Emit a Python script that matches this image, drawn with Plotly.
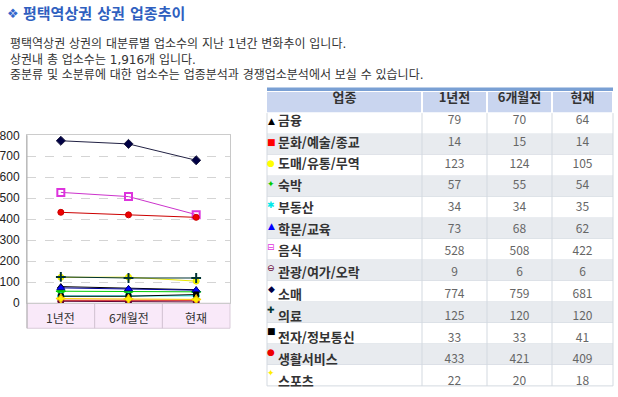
import plotly.graph_objects as go

W, H = 618, 397

periods = ["1년전", "6개월전", "현재"]
industries = ["금융", "문화/예술/종교", "도매/유통/무역", "숙박", "부동산", "학문/교육", "음식",
              "관광/여가/오락", "소매", "의료", "전자/정보통신", "생활서비스", "스포츠"]
v_1y = [79, 14, 123, 57, 34, 73, 528, 9, 774, 125, 33, 433, 22]
v_6m = [70, 15, 124, 55, 34, 68, 508, 6, 759, 120, 33, 421, 20]
v_now = [64, 14, 105, 54, 35, 62, 422, 6, 681, 120, 41, 409, 18]
y_ticks = [0, 100, 200, 300, 400, 500, 600, 700, 800]

title_text = "평택역상권 상권 업종추이"
desc_lines = ["평택역상권 상권의 대분류별 업소수의 지난 1년간 변화추이 입니다.",
              "상권내 총 업소수는 1,916개 입니다.",
              "중분류 및 소분류에 대한 업소수는 업종분석과 경쟁업소분석에서 보실 수 있습니다."]
headers = ["업종", "1년전", "6개월전", "현재"]

styles = [
    dict(color="#000000", line="#000000", symbol="triangle-up", size=6, glyph="▲"),
    dict(color="#ff0000", line="#cc0000", symbol="square", size=5, glyph="■"),
    dict(color="#ffff00", line="#e8e800", symbol="circle", size=6, glyph="●"),
    dict(color="#00cc00", line="#00cc00", symbol="star-diamond", size=7, glyph="✦"),
    dict(color="#00e8e8", line="#00e8e8", symbol="asterisk-open", size=6, glyph="✱"),
    dict(color="#0000ff", line="#000099", symbol="triangle-up", size=7, glyph="▲"),
    dict(color="#dd33dd", line="#cc33cc", symbol="square-open", size=7, glyph="⊟"),
    dict(color="#660033", line="#660033", symbol="circle", size=6, glyph="⊖"),
    dict(color="#000044", line="#222244", symbol="diamond", size=7, glyph="◆"),
    dict(color="#003333", line="#003333", symbol="cross-thin-open", size=7, glyph="✚"),
    dict(color="#000000", line="#000000", symbol="square", size=5, glyph="■"),
    dict(color="#ee0000", line="#cc0000", symbol="circle", size=6, glyph="●"),
    dict(color="#ffee00", line="#ffcc00", symbol="star-diamond", size=7, glyph="✦"),
]

def px(x):
    return x / W

def py(y):
    return 1 - y / H

KFONT = "Noto Sans CJK KR"
MIXFONT = "DejaVu Sans, Noto Sans CJK KR"

fig = go.Figure()

for i, name in enumerate(industries):
    s = styles[i]
    vals = [v_1y[i], v_6m[i], v_now[i]]
    mk = dict(symbol=s["symbol"], size=s["size"], color=s["color"])
    if "open" in s["symbol"]:
        mk["line"] = dict(width=2, color=s["color"])
    else:
        mk["line"] = dict(width=1, color=s["line"])
    fig.add_trace(go.Scatter(x=periods, y=vals, mode="lines+markers", name=name,
                             line=dict(color=s["line"], width=1), marker=mk,
                             showlegend=False, hoverinfo="x+y+name"))

# ---- table geometry (pixels) ----
ROW_H = 21.75
HEAD_TOP = 87
HEAD_H = 23
TEXT_SHIFT = 7          # plotly puts cell text near the cell top; lift the text layer
T_X0, T_X1 = 267, 613
COL_EDGES = [267, 422, 487, 552, 613]

label_col = ["\u00a0" + n for n in industries]
clear = "rgba(0,0,0,0)"

fig.add_trace(go.Table(
    domain=dict(x=[px(T_X0), px(T_X1)], y=[0, py(HEAD_TOP - TEXT_SHIFT)]),
    columnwidth=[COL_EDGES[k + 1] - COL_EDGES[k] for k in range(4)],
    header=dict(values=headers, fill_color=clear, line=dict(color=clear, width=0),
                font=dict(family=KFONT, size=13, color="#333333", weight="bold"),
                align="center", height=HEAD_H),
    cells=dict(values=[label_col, v_1y, v_6m, v_now],
               fill_color=clear, line=dict(color=clear, width=0),
               font=dict(family=KFONT, size=[13, 12, 12, 12],
                         weight=["bold", "normal", "normal", "normal"],
                         color=["#333333", "#666666", "#666666", "#666666"]),
               align=["left", "center", "center", "center"], height=ROW_H),
))

shapes = []
shapes.append(dict(type="rect", xref="paper", yref="paper", x0=px(T_X0), x1=px(T_X1),
                   y0=py(HEAD_TOP), y1=py(HEAD_TOP - 3.5), fillcolor="#7aa0d4", line=dict(width=0),
                   layer="below"))
for k in range(4):
    shapes.append(dict(type="rect", xref="paper", yref="paper",
                       x0=px(COL_EDGES[k] + (0 if k == 0 else 1)), x1=px(COL_EDGES[k + 1] - 1),
                       y0=py(HEAD_TOP + HEAD_H - 1), y1=py(HEAD_TOP + 1),
                       fillcolor="#c9d5ef", line=dict(width=0), layer="below"))
for i in range(len(industries)):
    top = HEAD_TOP + HEAD_H + ROW_H * i
    shapes.append(dict(type="rect", xref="paper", yref="paper", x0=px(T_X0), x1=px(T_X1),
                       y0=py(top + ROW_H), y1=py(top),
                       fillcolor="#ffffff" if i % 2 == 0 else "#e8ebef",
                       line=dict(width=0), layer="below"))
    shapes.append(dict(type="line", xref="paper", yref="paper", x0=px(T_X0), x1=px(T_X1),
                       y0=py(top + ROW_H), y1=py(top + ROW_H),
                       line=dict(color="#d3d9e0", width=1), layer="below"))
body_bottom = HEAD_TOP + HEAD_H + ROW_H * len(industries)
for xe in COL_EDGES:
    shapes.append(dict(type="line", xref="paper", yref="paper", x0=px(xe), x1=px(xe),
                       y0=py(body_bottom), y1=py(HEAD_TOP + HEAD_H),
                       line=dict(color="#d3d9e0", width=1), layer="below"))

shapes.append(dict(type="rect", xref="paper", yref="paper", x0=px(27), x1=px(230),
                   y0=py(333), y1=py(307), fillcolor="#f9e9f9",
                   line=dict(color="#d9cbd9", width=1), layer="below"))
for xv in [0.5, 1.5]:
    shapes.append(dict(type="line", xref="x", yref="paper", x0=xv, x1=xv,
                       y0=py(333), y1=py(307), line=dict(color="#d0c0d0", width=1)))
shapes.append(dict(type="line", xref="paper", yref="paper", x0=px(27), x1=px(27),
                   y0=py(333), y1=py(133), line=dict(color="#b0b0b0", width=1)))

annotations = []
annotations.append(dict(text="❖", x=px(5), y=py(7), xref="paper", yref="paper",
                        xanchor="left", yanchor="middle", showarrow=False,
                        font=dict(family="DejaVu Sans", size=13, color="#3366cc")))
annotations.append(dict(text=f"<b>{title_text}</b>", x=px(21), y=py(7), xref="paper", yref="paper",
                        xanchor="left", yanchor="middle", showarrow=False,
                        font=dict(family=MIXFONT, size=15, color="#2f5fbf")))
annotations.append(dict(text="<br>".join(desc_lines), x=px(8), y=py(29), xref="paper", yref="paper",
                        xanchor="left", yanchor="top", align="left", showarrow=False,
                        font=dict(family=MIXFONT, size=12, color="#333333")))
for p in periods:
    annotations.append(dict(text=p, x=p, y=py(322), xref="x", yref="paper",
                            xanchor="center", yanchor="middle", showarrow=False,
                            font=dict(family=KFONT, size=12, color="#333333")))
for i, s in enumerate(styles):
    yc = HEAD_TOP + HEAD_H + ROW_H * (i + 0.5) - 2.5
    annotations.append(dict(text=s["glyph"], x=px(271), y=py(yc), xref="paper", yref="paper",
                            xanchor="center", yanchor="middle", showarrow=False,
                            font=dict(family="DejaVu Sans", size=9, color=s["color"])))

fig.update_layout(
    width=W, height=H, margin=dict(l=0, r=0, t=0, b=0),
    paper_bgcolor="#ffffff", plot_bgcolor="#ffffff",
    shapes=shapes, annotations=annotations,
    xaxis=dict(domain=[px(27), px(230)], type="category", range=[-0.5, 2.5],
               showticklabels=False, showgrid=False, zeroline=False,
               showline=True, mirror=True, linecolor="#cccccc", linewidth=1, fixedrange=True),
    yaxis=dict(domain=[py(307), py(133)], range=[0, 800], tickvals=y_ticks,
               showgrid=True, gridcolor="#d4d4d4", griddash="dash", zeroline=False,
               showline=True, mirror=True, linecolor="#c8c8c8", linewidth=1,
               ticks="", ticklabelstandoff=4,
               tickfont=dict(family="Liberation Sans", size=12, color="#222222"), fixedrange=True),
)

fig.write_html("out.html", config={"displayModeBar": False},
               post_script="document.body.style.margin='0';document.body.style.overflow='hidden';")
